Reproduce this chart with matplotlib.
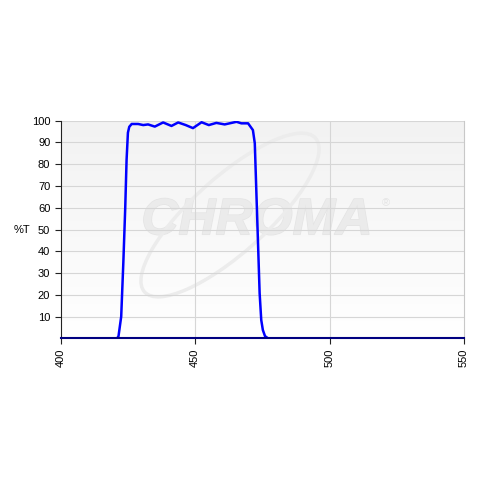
import matplotlib.pyplot as plt
import numpy as np
from matplotlib.patches import Arc
from matplotlib.colors import LinearSegmentedColormap
import matplotlib.patheffects as pe

plt.rcParams['font.family'] = ['Liberation Sans', 'DejaVu Sans']

# Curva de transmissão (nm, %T)
wavelength = [400, 421.0, 421.5, 422.5, 423.3, 424.0, 424.5, 425.0, 425.5, 426.4,
              428.8, 430.7, 432.5, 435.0, 438.1, 441.2, 443.7, 446.5, 449.2, 452.4,
              455.1, 457.9, 461.0, 465.4, 467.2, 469.7, 471.5, 472.2, 472.8, 473.4,
              474.0, 474.6, 475.2, 476.0, 477.1, 550]
transmission = [0, 0, 1, 10, 35, 60, 82, 94.5, 97.2, 98.5,
                98.5, 98.0, 98.3, 97.3, 99.2, 97.6, 99.2, 98.0, 96.6, 99.3,
                98.0, 99.0, 98.3, 99.5, 98.8, 98.8, 95.7, 89.6, 66.6, 43.7,
                20.7, 8.4, 3.8, 1.0, 0, 0]

yticks = [10, 20, 30, 40, 50, 60, 70, 80, 90, 100]
xticks = [400, 450, 500, 550]

fig = plt.figure(figsize=(4.8, 4.8), dpi=100)
ax = fig.add_axes([0.1265, 0.2952, 0.840, 0.4533])

# fundo com leve degradê (cinza claro em cima, branco embaixo)
cmap = LinearSegmentedColormap.from_list('bg', ['#ffffff', '#f2f2f2'])
grad = np.linspace(0, 1, 256).reshape(-1, 1)
ax.imshow(grad, extent=[400, 550, 0, 100], aspect='auto', cmap=cmap,
          origin='lower', zorder=0)

# marca d'água
ax.text(473, 54, 'CHROMA', fontsize=37, fontweight='bold', style='italic',
        color='#ebebeb', ha='center', va='center', zorder=1,
        path_effects=[pe.withStroke(linewidth=1, foreground='#e4e4e4')])
ax.text(521, 62, '®', fontsize=8, color='#e4e4e4', ha='center', va='center', zorder=1)
ax.add_patch(Arc((2.3, 2.65), 2.3, 0.75, angle=42, theta1=0, theta2=360,
                 color='#ececec', lw=2.5, zorder=1,
                 transform=fig.dpi_scale_trans))

for y in yticks:
    ax.axhline(y, color='#d6d6d6', lw=0.8, zorder=2)
for x in [450, 500]:
    ax.axvline(x, color='#d6d6d6', lw=0.8, zorder=2)

ax.plot(wavelength, transmission, color='#0000ff', lw=1.8, zorder=4)

ax.set_xlim(400, 550)
ax.set_ylim(0, 100)
ax.set_yticks(yticks)
ax.set_xticks(xticks)
ax.set_xticklabels([str(x) for x in xticks], rotation=90)
ax.tick_params(axis='both', labelsize=8, length=4, color='#222222', width=0.8)
fig.text(22 / 480, 1 - 230 / 480, '%T', fontsize=8, ha='center', va='center')

ax.spines['top'].set_visible(False)
ax.spines['right'].set_color('#c8c8c8')
ax.spines['left'].set_color('#222222')
ax.spines['bottom'].set_color('#000080')
ax.spines['bottom'].set_linewidth(1.5)
ax.spines['bottom'].set_zorder(5)

fig.savefig('out.png', dpi=100)
